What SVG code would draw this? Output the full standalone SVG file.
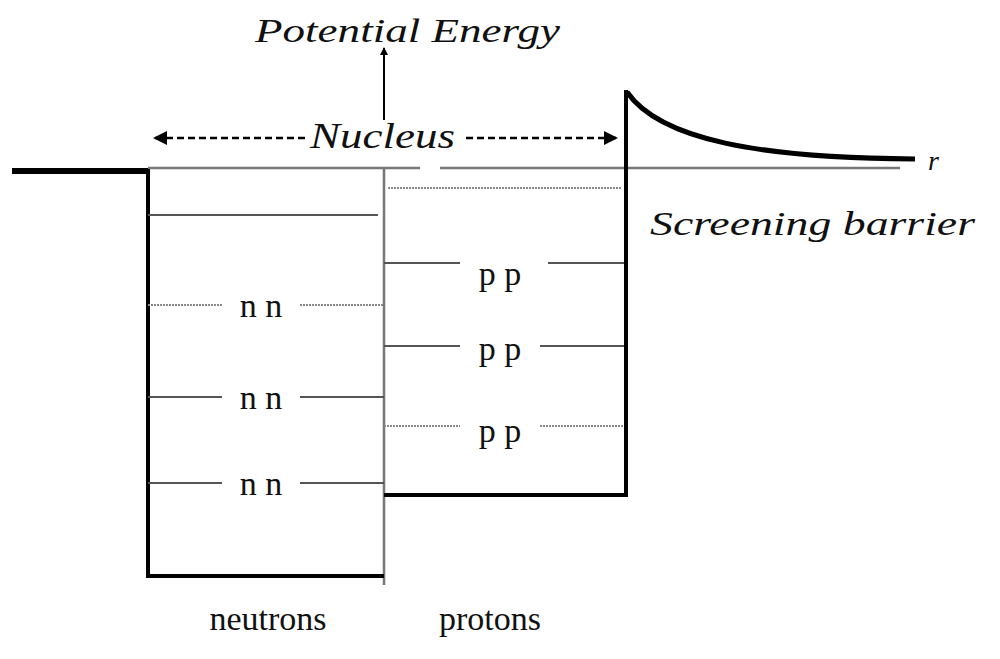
<svg xmlns="http://www.w3.org/2000/svg" width="1000" height="659" viewBox="0 0 1000 659">
<style>
text{font-family:'Liberation Serif','Times New Roman','DejaVu Serif',serif;fill:#111}
.it{font-style:italic}
.wall{stroke:#000;stroke-width:4;fill:none}
.g{stroke:#777;stroke-width:2.5;fill:none}
.lv{stroke:#555;stroke-width:2;fill:none}
.dl{stroke:#888;stroke-width:2;stroke-dasharray:2 1;fill:none}
</style>
<defs><marker id="ah" markerWidth="8" markerHeight="14" refX="7" refY="4" orient="auto" markerUnits="userSpaceOnUse" viewBox="0 0 8 8"><path d="M0,0 L8,4 L0,8 z" fill="#000"/></marker>
<marker id="ah2" markerWidth="14" markerHeight="14" refX="12" refY="7" orient="auto" markerUnits="userSpaceOnUse"><path d="M0,0 L14,7 L0,14 z" fill="#000"/></marker></defs>
<rect width="1000" height="659" fill="#fff"/>
<g id="axes">
<path class="g" d="M148 168 H420 M440 168 H900"/>
<path class="g" d="M384 168 V585"/>
<text class="it" x="255" y="42" font-size="34" textLength="305" lengthAdjust="spacingAndGlyphs">Potential Energy</text>
<text class="it" x="928" y="170" font-size="28">r</text>
<text class="it" x="310" y="148" font-size="36" textLength="145" lengthAdjust="spacingAndGlyphs">Nucleus</text>
</g>
<g id="well">
<path d="M12 171 H148" stroke="#000" stroke-width="6"/>
<path class="wall" d="M148 169 V576 H384"/>
<path class="wall" d="M384 495 H626 V90"/>
<path d="M627 92 C660 140 760 158 915 159" stroke="#000" stroke-width="5" fill="none"/>
<text class="it" x="650" y="235" font-size="34" textLength="325" lengthAdjust="spacingAndGlyphs">Screening barrier</text>
</g>
<g id="neutrons">
<path class="lv" d="M148 215 H378 M148 397 H222 M300 397 H384 M148 483 H222 M300 483 H384"/>
<path class="dl" d="M148 305 H222 M300 305 H384"/>
<text x="261" y="317" font-size="34" text-anchor="middle">n n</text>
<text x="261" y="409" font-size="34" text-anchor="middle">n n</text>
<text x="261" y="495" font-size="34" text-anchor="middle">n n</text>
<text x="268" y="630" font-size="34" text-anchor="middle">neutrons</text>
</g>
<g id="protons">
<path class="dl" d="M388 188 H622 M384 426 H460 M540 426 H624"/>
<path class="lv" d="M384 263 H460 M548 263 H624 M384 346 H460 M540 346 H624"/>
<text x="500" y="285" font-size="34" text-anchor="middle">p p</text>
<text x="500" y="360" font-size="34" text-anchor="middle">p p</text>
<text x="500" y="442" font-size="34" text-anchor="middle">p p</text>
<text x="490" y="630" font-size="34" text-anchor="middle">protons</text>
</g>
<g id="connectors">
<path d="M384 120 V48" stroke="#000" stroke-width="2" marker-end="url(#ah)"/>
<path d="M305 138 H155" stroke="#000" stroke-width="2.5" stroke-dasharray="7 4" marker-end="url(#ah2)"/>
<path d="M466 138 H616" stroke="#000" stroke-width="2.5" stroke-dasharray="7 4" marker-end="url(#ah2)"/>
</g>
</svg>
